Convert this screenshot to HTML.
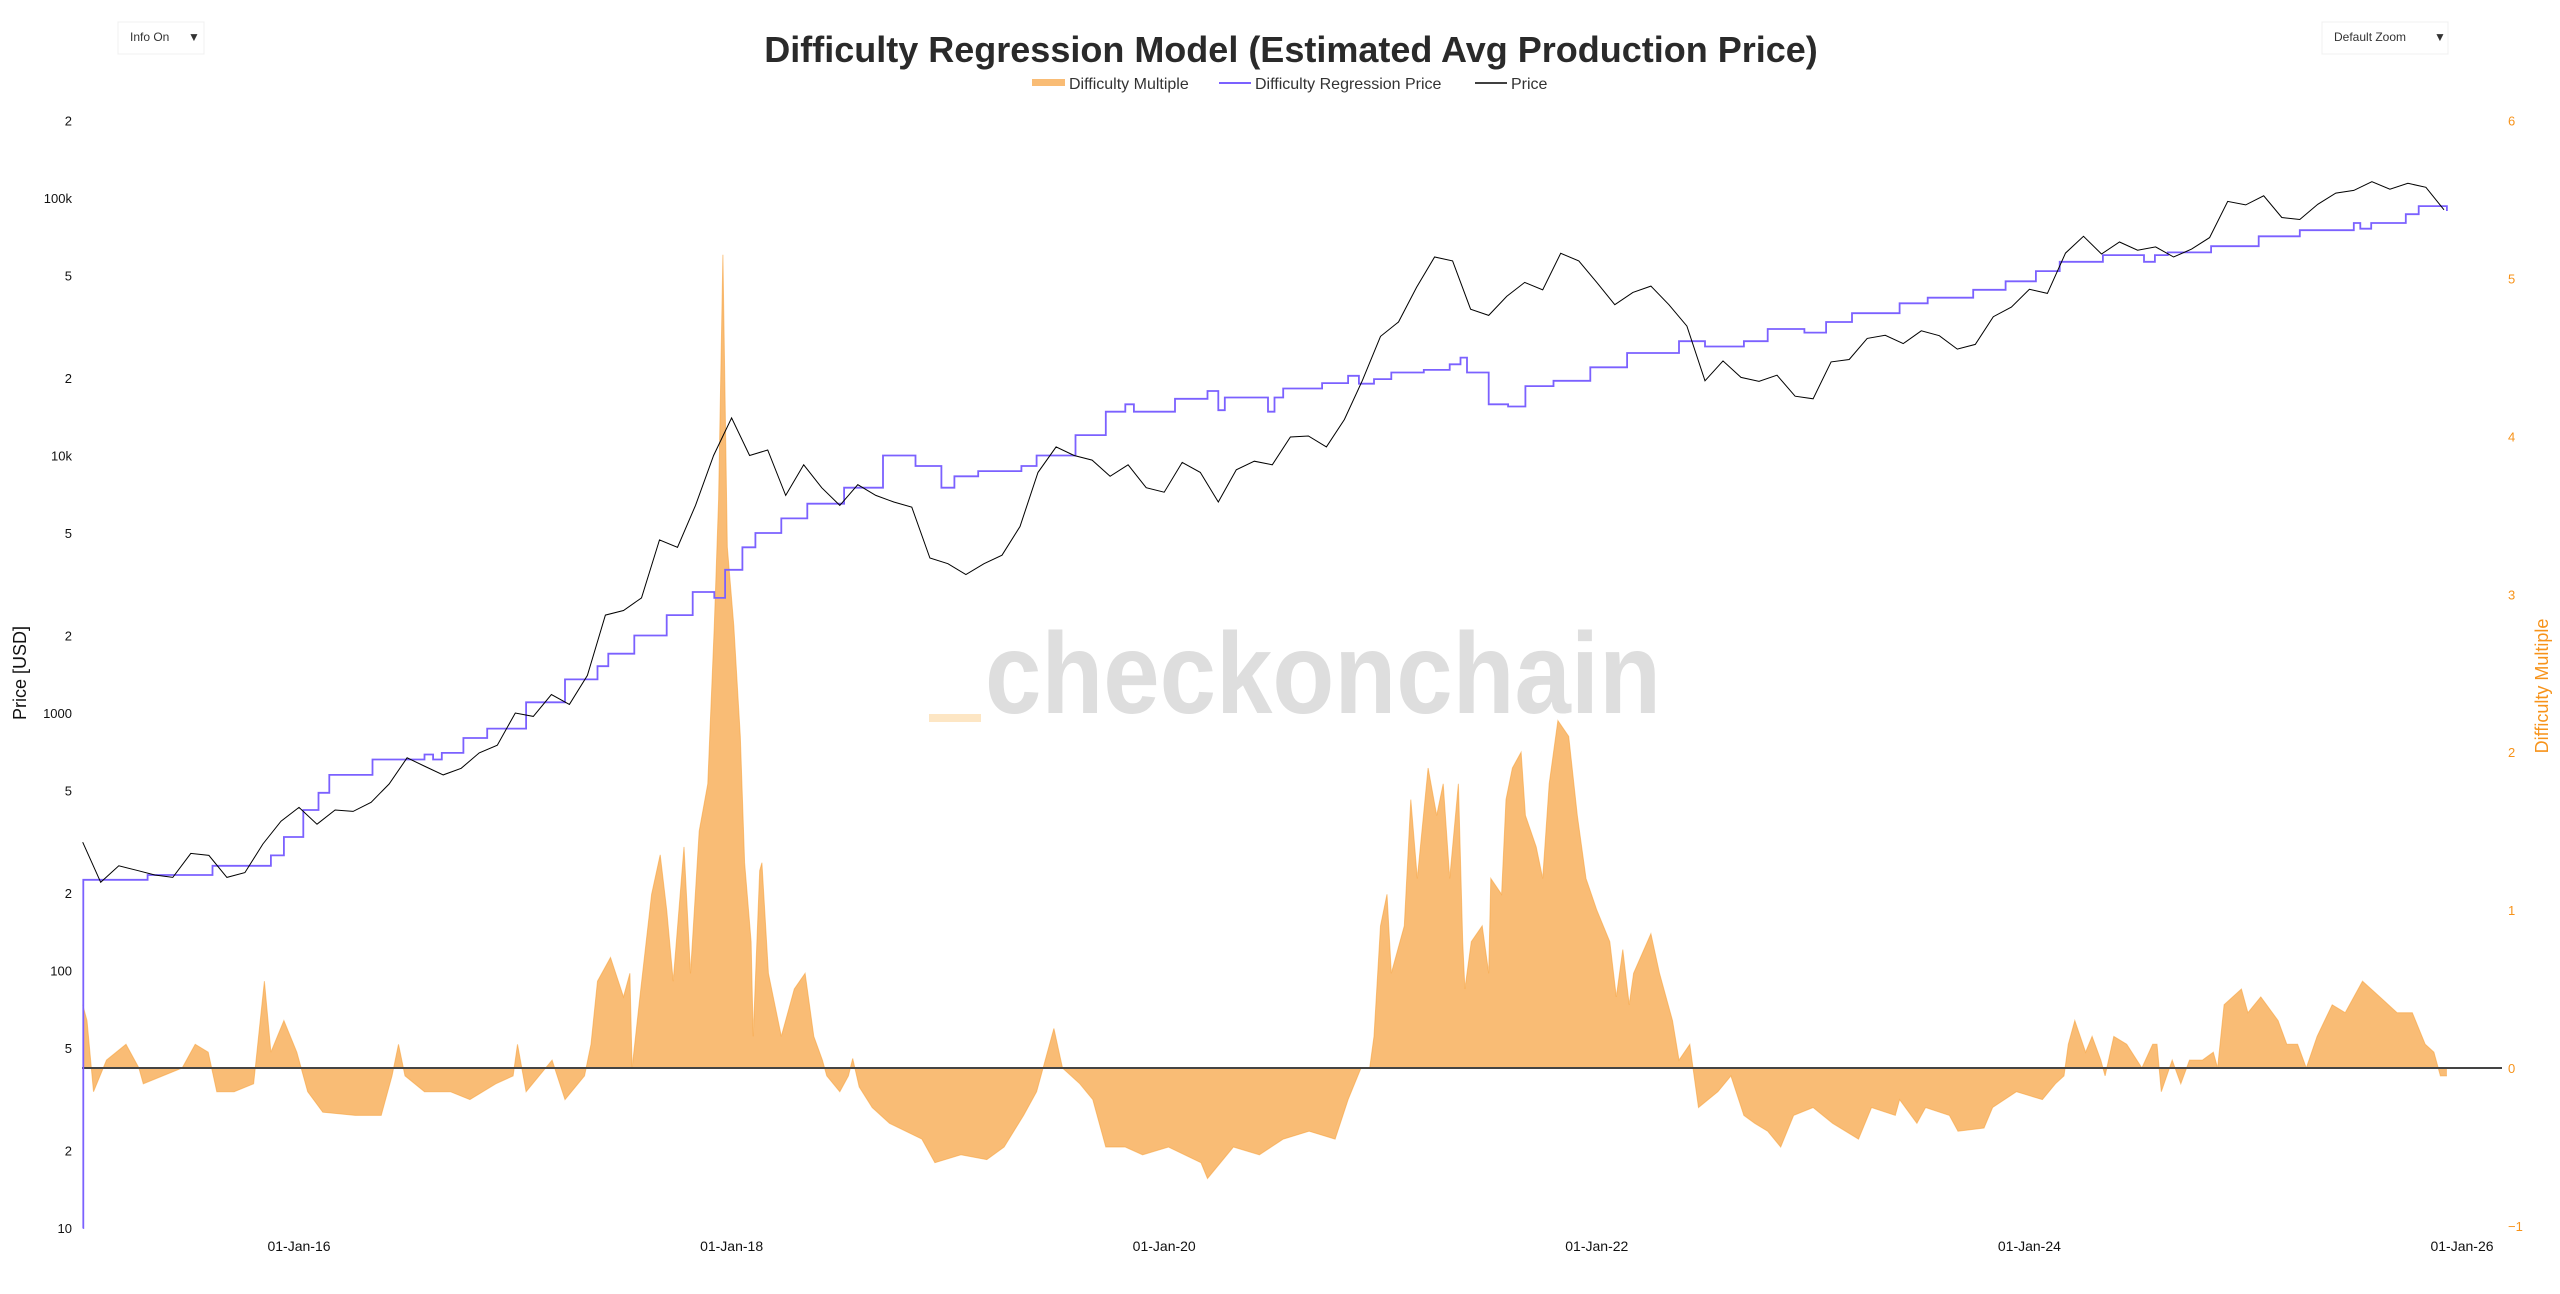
<!DOCTYPE html>
<html><head><meta charset="utf-8"><style>
html,body{margin:0;padding:0;background:#fff;}
svg{display:block;font-family:"Liberation Sans",sans-serif;}
</style></head><body>
<svg id="chart" width="2560" height="1294" viewBox="0 0 2560 1294" xmlns="http://www.w3.org/2000/svg">
<rect width="2560" height="1294" fill="#fff"/>
<g><rect x="118" y="22" width="86" height="32" fill="#fff" stroke="#f0f0f0"/><text x="130" y="41" font-size="12" fill="#333">Info On</text><text x="188" y="41" font-size="12" fill="#333">▼</text></g>
<g><rect x="2322" y="22" width="126" height="32" fill="#fff" stroke="#f0f0f0"/><text x="2334" y="41" font-size="12" fill="#333">Default Zoom</text><text x="2434" y="41" font-size="12" fill="#333">▼</text></g>
<text x="1291" y="62" text-anchor="middle" font-size="36" font-weight="bold" fill="#2a2a2a">Difficulty Regression Model (Estimated Avg Production Price)</text>
<g font-size="16" fill="#333">
<g><rect x="1032" y="79" width="33" height="7" fill="#f9bc75"/><text x="1069" y="89">Difficulty Multiple</text></g>
<g><line x1="1219" y1="83" x2="1251" y2="83" stroke="#7b61ff" stroke-width="2"/><text x="1255" y="89">Difficulty Regression Price</text></g>
<g><line x1="1475" y1="83" x2="1507" y2="83" stroke="#000" stroke-width="1.5"/><text x="1511" y="89">Price</text></g>
</g>
<g><rect x="929" y="714" width="52" height="8" fill="#fde6c4"/><text x="985" y="713" font-size="115" font-weight="bold" fill="#dedede" textLength="676" lengthAdjust="spacingAndGlyphs">checkonchain</text></g>
<text transform="translate(26,673) rotate(-90)" text-anchor="middle" font-size="18" fill="#111">Price [USD]</text>
<text transform="translate(2548,686) rotate(-90)" text-anchor="middle" font-size="18" fill="#f7931a">Difficulty Multiple</text>
<g id="ticks"></g>
<g id="dm"></g>
<g id="lines"></g>
</svg>
<script>
const priceStart = 2015;
const priceValues = [315,220,255,245,235,230,285,280,230,240,310,380,
430,370,420,415,450,530,670,620,575,610,700,750,
1000,970,1180,1080,1400,2400,2500,2800,4700,4400,6400,10000,
14000,10000,10500,7000,9200,7500,6400,7700,7000,6600,6300,4000,
3800,3450,3800,4100,5300,8600,10800,10000,9600,8300,9200,7500,
7200,9400,8600,6600,8800,9500,9200,11800,11900,10800,13800,19600,
29000,33000,45000,59000,57000,37000,35000,41500,47000,44000,61000,57000,
47000,38500,43000,45500,38500,31800,19500,23300,20100,19400,20500,17000,
16600,23100,23600,28500,29300,27200,30500,29200,25900,27000,34600,37700,
44200,42600,61100,71000,60600,67500,62700,64600,59000,63300,70200,97000,
94000,102000,84000,82500,94500,104500,107000,115700,108200,114000,110000,90000];
const regDates = [2015.0,2015.003,2015.3,2015.6,2015.87,2015.93,2016.02,2016.09,2016.14,2016.34,2016.58,2016.62,2016.66,2016.76,2016.87,2017.05,2017.23,2017.38,2017.43,2017.55,2017.70,2017.82,2017.92,2017.97,2018.05,2018.11,2018.23,2018.35,2018.52,2018.70,2018.85,2018.97,2019.03,2019.14,2019.34,2019.41,2019.59,2019.73,2019.82,2019.86,2020.05,2020.2,2020.25,2020.28,2020.48,2020.51,2020.55,2020.73,2020.85,2020.9,2020.97,2021.05,2021.2,2021.32,2021.37,2021.4,2021.5,2021.59,2021.67,2021.8,2021.97,2022.14,2022.38,2022.5,2022.68,2022.79,2022.96,2023.06,2023.18,2023.4,2023.53,2023.74,2023.89,2024.03,2024.14,2024.34,2024.53,2024.58,2024.64,2024.84,2025.06,2025.25,2025.5,2025.53,2025.58,2025.74,2025.8,2025.93];
const regValues = [10,225,235,255,280,330,420,490,575,660,690,660,700,800,870,1100,1350,1520,1700,2000,2400,2950,2800,3600,4400,5000,5700,6500,7500,10000,9100,7500,8300,8700,9100,10000,12000,14800,15800,14800,16600,17800,15000,16800,14800,16800,18200,19100,20400,19000,19800,21000,21500,22600,24000,21000,15800,15500,18600,19500,22000,25000,27800,26500,27800,31000,30000,33000,35700,39000,41000,44000,47500,52000,56500,60000,56500,60000,61500,65000,71000,75000,80000,76000,80000,86500,93000,89000];
const dmDates = [2015.00,2015.02,2015.05,2015.11,2015.20,2015.26,2015.28,2015.37,2015.46,2015.52,2015.58,2015.62,2015.70,2015.79,2015.84,2015.87,2015.93,2015.99,2016.04,2016.11,2016.26,2016.38,2016.43,2016.46,2016.49,2016.58,2016.70,2016.79,2016.91,2016.99,2017.01,2017.05,2017.17,2017.23,2017.32,2017.35,2017.38,2017.44,2017.50,2017.53,2017.54,2017.58,2017.63,2017.67,2017.70,2017.73,2017.78,2017.81,2017.85,2017.89,2017.92,2017.94,2017.96,2017.98,2018.01,2018.04,2018.06,2018.09,2018.10,2018.13,2018.14,2018.17,2018.23,2018.29,2018.34,2018.38,2018.42,2018.44,2018.50,2018.54,2018.56,2018.59,2018.65,2018.73,2018.88,2018.94,2019.06,2019.18,2019.26,2019.35,2019.41,2019.49,2019.53,2019.61,2019.67,2019.73,2019.82,2019.90,2020.02,2020.17,2020.20,2020.32,2020.44,2020.55,2020.67,2020.79,2020.85,2020.91,2020.95,2020.97,2021.00,2021.03,2021.05,2021.11,2021.14,2021.17,2021.22,2021.26,2021.29,2021.32,2021.36,2021.38,2021.39,2021.42,2021.47,2021.50,2021.51,2021.56,2021.58,2021.61,2021.65,2021.67,2021.72,2021.75,2021.78,2021.82,2021.87,2021.91,2021.95,2022.00,2022.06,2022.09,2022.12,2022.15,2022.17,2022.25,2022.29,2022.35,2022.38,2022.43,2022.45,2022.47,2022.56,2022.62,2022.68,2022.73,2022.79,2022.85,2022.91,2023.00,2023.09,2023.21,2023.27,2023.38,2023.40,2023.48,2023.52,2023.63,2023.67,2023.79,2023.83,2023.94,2024.06,2024.12,2024.16,2024.18,2024.21,2024.26,2024.29,2024.33,2024.35,2024.39,2024.45,2024.52,2024.57,2024.59,2024.61,2024.66,2024.70,2024.74,2024.80,2024.85,2024.87,2024.90,2024.98,2025.01,2025.07,2025.15,2025.19,2025.24,2025.28,2025.33,2025.40,2025.46,2025.54,2025.62,2025.70,2025.77,2025.83,2025.87,2025.90,2025.93];
const dmValues = [0.4,0.3,-0.15,0.05,0.15,0,-0.1,-0.05,0,0.15,0.1,-0.15,-0.15,-0.1,0.55,0.1,0.3,0.1,-0.15,-0.28,-0.3,-0.3,-0.05,0.15,-0.05,-0.15,-0.15,-0.2,-0.1,-0.05,0.15,-0.15,0.05,-0.2,-0.05,0.15,0.55,0.7,0.45,0.6,0.0,0.5,1.1,1.35,1.0,0.55,1.4,0.6,1.5,1.8,2.8,3.6,5.15,3.3,2.8,2.1,1.3,0.8,0.2,1.25,1.3,0.6,0.2,0.5,0.6,0.2,0.05,-0.05,-0.15,-0.05,0.06,-0.12,-0.25,-0.35,-0.45,-0.6,-0.55,-0.58,-0.5,-0.3,-0.15,0.25,0.0,-0.1,-0.2,-0.5,-0.5,-0.55,-0.5,-0.6,-0.7,-0.5,-0.55,-0.45,-0.4,-0.45,-0.2,0.0,0.0,0.2,0.9,1.1,0.6,0.9,1.7,1.2,1.9,1.6,1.8,1.2,1.8,0.8,0.5,0.8,0.9,0.6,1.2,1.1,1.7,1.9,2.0,1.6,1.4,1.2,1.8,2.2,2.1,1.6,1.2,1.0,0.8,0.45,0.75,0.4,0.6,0.85,0.6,0.3,0.05,0.15,-0.05,-0.25,-0.15,-0.05,-0.3,-0.35,-0.4,-0.5,-0.3,-0.25,-0.35,-0.45,-0.25,-0.3,-0.2,-0.35,-0.25,-0.3,-0.4,-0.38,-0.25,-0.15,-0.2,-0.1,-0.05,0.15,0.3,0.1,0.2,0.05,-0.05,0.2,0.15,0.0,0.15,0.15,-0.15,0.05,-0.1,0.05,0.05,0.1,0.0,0.4,0.5,0.35,0.45,0.3,0.15,0.15,0.0,0.2,0.4,0.35,0.55,0.45,0.35,0.35,0.15,0.1,-0.05,-0.05];
const xTickYears = [2016,2018,2020,2022,2024,2026];
const xTickLabels = ["01-Jan-16","01-Jan-18","01-Jan-20","01-Jan-22","01-Jan-24","01-Jan-26"];
const yTickValues = [200000,100000,50000,20000,10000,5000,2000,1000,500,200,100,50,20,10];
const yTickLabels = ["2","100k","5","2","10k","5","2","1000","5","2","100","5","2","10"];
const y2TickValues = [6,5,4,3,2,1,0,-1];
const y2TickLabels = ["6","5","4","3","2","1","0","−1"];

const NS = "http://www.w3.org/2000/svg";
const X = yr => 299 + (yr - 2016) * 216.3;
const Y = p => 198 - (Math.log10(p) - 5) * 257.5;
const Y2 = v => 1068 - v * 157.9;
function mk(tag, attrs, parent){const e=document.createElementNS(NS,tag);for(const k in attrs)e.setAttribute(k,attrs[k]);parent.appendChild(e);return e;}

const ticks = document.getElementById('ticks');
yTickValues.forEach((v,i)=>{
  const t = mk('text',{x:72,y:Y(v)+5,'text-anchor':'end','font-size':13,fill:'#111'},ticks);
  
  
  t.textContent = yTickLabels[i];
});
y2TickValues.forEach((v,i)=>{
  const t = mk('text',{x:2508,y:Y2(v)+5,'font-size':13,fill:'#f7931a'},ticks);
  
  
  t.textContent = y2TickLabels[i];
});
xTickYears.forEach((v,i)=>{
  const t = mk('text',{x:X(v),y:1251,'text-anchor':'middle','font-size':14,fill:'#111'},ticks);
  
  
  t.textContent = xTickLabels[i];
});

const dmG = document.getElementById('dm');
let d = 'M'+X(dmDates[0]).toFixed(1)+','+Y2(0);
let ld = '';
dmDates.forEach((t,i)=>{ d += ' L'+X(t).toFixed(1)+','+Y2(dmValues[i]).toFixed(1); ld += (i?' L':'M')+X(t).toFixed(1)+','+Y2(dmValues[i]).toFixed(1); });
d += ' L'+X(dmDates[dmDates.length-1]).toFixed(1)+','+Y2(0)+' Z';
const area = mk('path',{d:d,fill:'#f9bc75',stroke:'none'},dmG);


const dml = mk('path',{d:ld,fill:'none',stroke:'#f7a440','stroke-width':1,'stroke-opacity':0.6},dmG);


const zero = mk('line',{x1:82,x2:2502,y1:Y2(0),y2:Y2(0),stroke:'#444','stroke-width':2},dmG);



const lines = document.getElementById('lines');
let rd = '';
regDates.forEach((t,i)=>{
  const x = X(t).toFixed(1), y = Y(regValues[i]).toFixed(1);
  if(i===0) rd = 'M'+x+','+Y(regValues[0]).toFixed(1);
  else rd += ' H'+x+' V'+y;
});
const reg = mk('path',{d:rd,fill:'none',stroke:'#7b61ff','stroke-width':1.8},lines);


let pd = '';
priceValues.forEach((p,i)=>{ pd += (i?' L':'M')+X(priceStart+i/12).toFixed(1)+','+Y(p).toFixed(1); });
const pr = mk('path',{d:pd,fill:'none',stroke:'#000','stroke-width':1},lines);


</script>
</body></html>
